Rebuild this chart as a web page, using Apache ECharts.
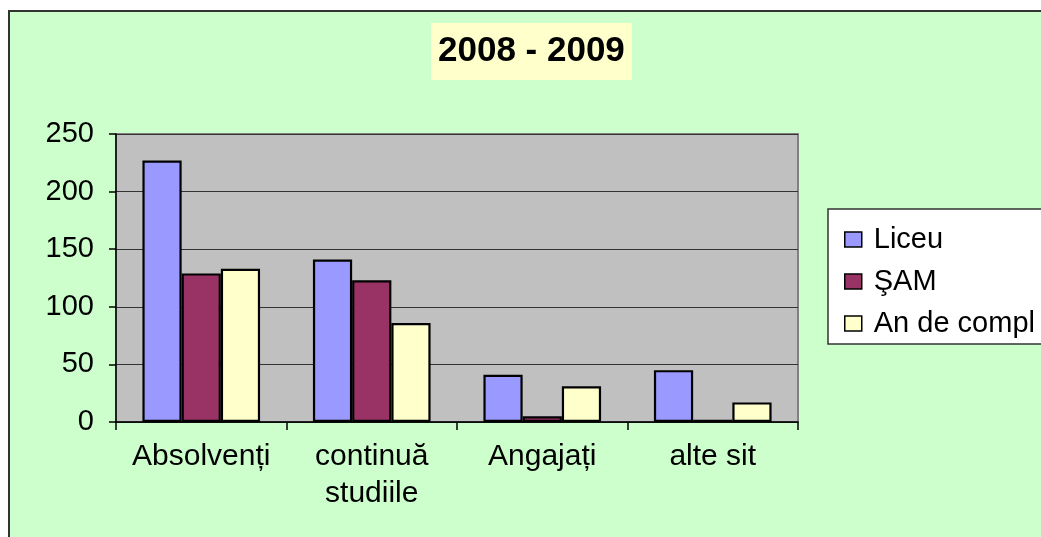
<!DOCTYPE html>
<html>
<head>
<meta charset="utf-8">
<script src="https://cdn.jsdelivr.net/npm/echarts@6/dist/echarts.min.js"></script>
<style>
html,body{margin:0;padding:0;background:#fff;overflow:hidden;}
#frame{position:absolute;left:8px;top:10px;width:1100px;height:600px;background:#ccffcc;border:2px solid #333;}
#main{position:absolute;left:0;top:0;width:1041px;height:537px;}
</style>
</head>
<body>
<div id="frame"></div>
<div id="main"></div>
<script>
// date
var categorii = ['Absolvenți', 'continuă\nstudiile', 'Angajați', 'alte sit'];
var liceu = [227, 141, 41, 45];
var sam = [129, 123, 5, 2];
var anCompl = [133, 86, 31, 17];
var yTicks = {min: 0, max: 250, interval: 50};

var font = "'Liberation Sans', Arial, sans-serif";

var myChart = echarts.init(document.getElementById('main'));

function serie(nume, valori, culoare) {
	return {
		name: nume,
		type: 'bar',
		barGap: '0%',
		barCategoryGap: '31%',
		itemStyle: {color: culoare, borderColor: '#000', borderWidth: 2.2},
		data: valori
	};
}

var option = {
	backgroundColor: 'transparent',
	animation: false,
	title: {
		text: '2008 - 2009',
		left: 431,
		top: 23,
		padding: [11, 7],
		backgroundColor: '#ffffcc',
		textStyle: {fontFamily: font, fontSize: 35, fontWeight: 'bold', color: '#000', lineHeight: 35}
	},
	graphic: [{
		type: 'rect',
		z: 1,
		shape: {x: 828, y: 209, width: 300, height: 135},
		style: {fill: '#fff', stroke: '#333', lineWidth: 1.5}
	}],
	legend: {
		orient: 'vertical',
		left: 839,
		top: 220,
		z: 5,
		itemGap: 13,
		itemWidth: 17,
		itemHeight: 15,
		icon: 'rect',
		itemStyle: {borderColor: '#000', borderWidth: 1.5},
		textStyle: {fontFamily: font, fontSize: 29, color: '#000', padding: [0, 0, 0, 7]},
		data: ['Liceu', 'ŞAM', 'An de compl']
	},
	grid: {
		left: 116,
		top: 134,
		width: 682,
		height: 288,
		show: true,
		backgroundColor: '#c0c0c0',
		borderColor: '#808080',
		borderWidth: 2
	},
	xAxis: {
		type: 'category',
		data: categorii,
		axisLine: {lineStyle: {color: '#000', width: 1.5}},
		axisTick: {show: true, length: 8, lineStyle: {color: '#000', width: 1.5}},
		axisLabel: {fontFamily: font, fontSize: 30, color: '#000', margin: 16, lineHeight: 37, interval: 0}
	},
	yAxis: {
		type: 'value',
		min: yTicks.min,
		max: yTicks.max,
		interval: yTicks.interval,
		axisLine: {show: true, lineStyle: {color: '#000', width: 1.5}},
		axisTick: {show: true, length: 7, lineStyle: {color: '#000', width: 1.5}},
		axisLabel: {fontFamily: font, fontSize: 29, color: '#000', margin: 22},
		splitLine: {lineStyle: {color: '#333', width: 1}}
	},
	series: [
		serie('Liceu', liceu, '#9999ff'),
		serie('ŞAM', sam, '#993366'),
		serie('An de compl', anCompl, '#ffffcc')
	]
};

myChart.setOption(option);
</script>
</body>
</html>
